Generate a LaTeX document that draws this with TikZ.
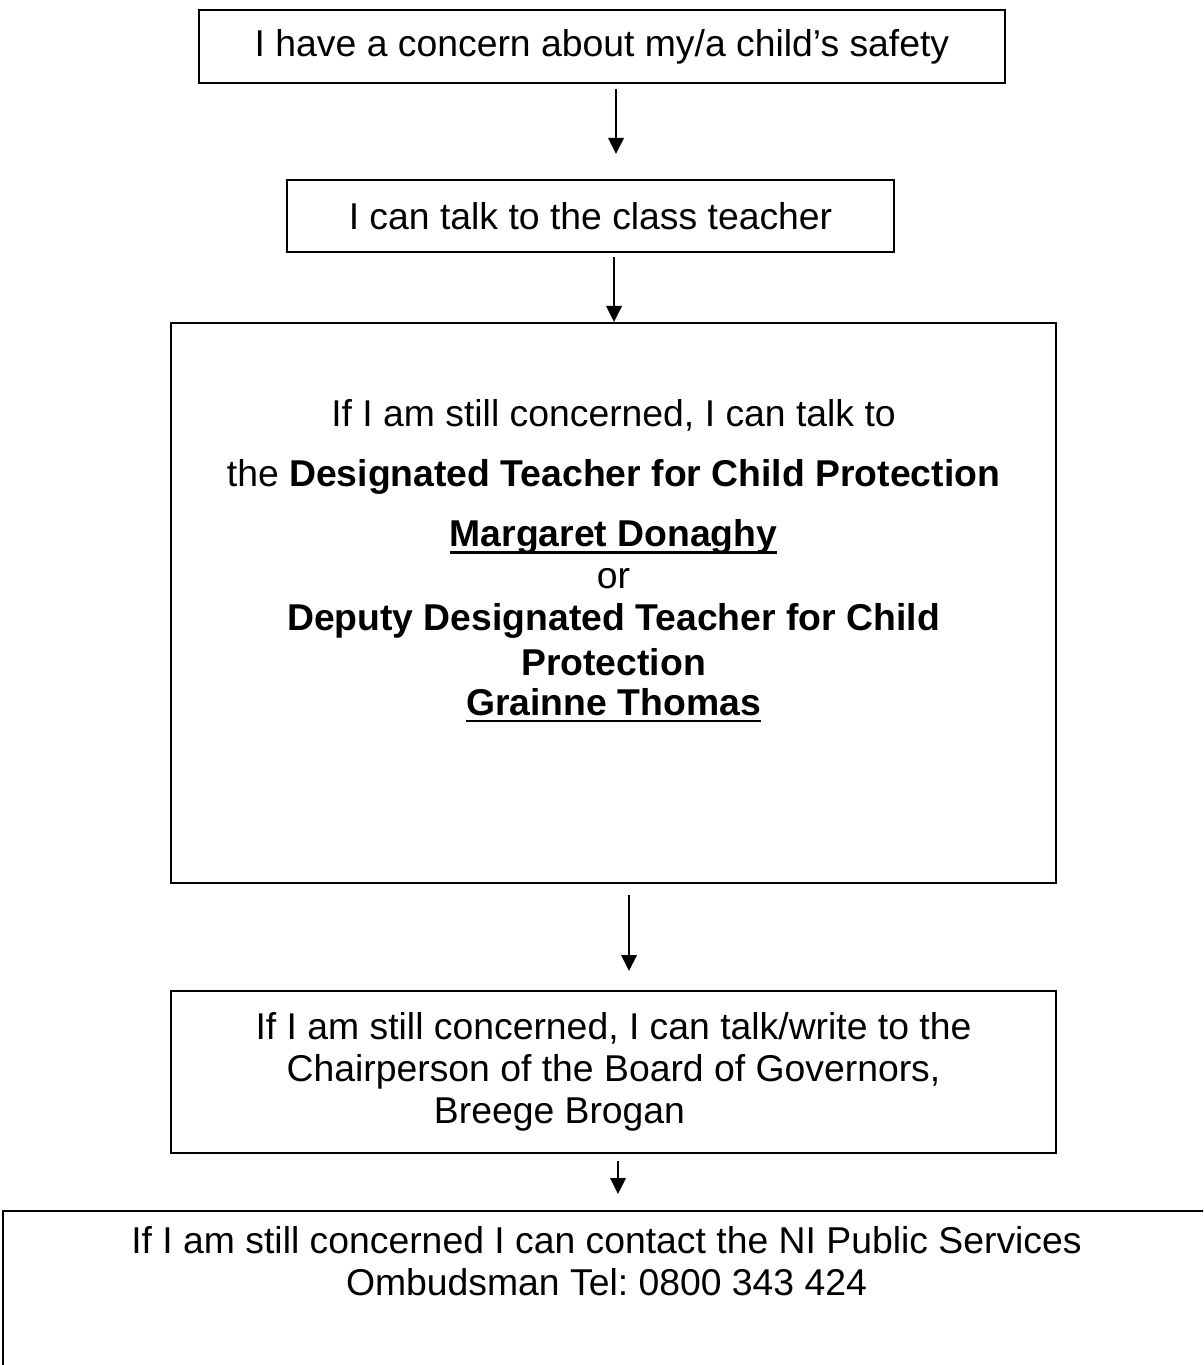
\documentclass[tikz,border=0pt]{standalone}
\usepackage{fontspec}
\setmainfont{Liberation Sans}
\usepackage{tikz}
\usetikzlibrary{arrows.meta,positioning}
\frenchspacing
\newlength{\px}
\setlength{\px}{0.375pt}
\newcommand{\sublinha}[1]{\leavevmode\setbox0\hbox{#1}\rlap{\rule[-2.6pt]{\wd0}{0.9pt}}\copy0}
\tikzset{
    caixa/.style={
        rectangle,
        draw,
        line width=0.75pt,
        align=center,
        inner sep=0pt
    },
    texto/.style={align=center, inner sep=0pt},
    seta/.style={-{Triangle[length=6pt, width=5.8pt]}, line width=0.75pt}
}

\begin{document}
\begin{tikzpicture}[x=0.375pt, y=-0.375pt, font=\fontsize{14}{15.75}\selectfont]
    \useasboundingbox (0,0) rectangle (1203,1365);
    \clip (0,0) rectangle (1203,1365);
    \node[caixa, minimum width=806\px, minimum height=73\px] (preocupacao) at (602,46.5)
        {I have a concern about my/a child’s safety};
    \node[caixa, minimum width=607\px, minimum height=72\px] (professor) at (590.5,216)
        {I can talk to the class teacher};
    \node[caixa, minimum width=885\px, minimum height=560\px] (designado) at (613.5,603) {};
    \node[texto, below=77\px of designado.north] (designadotexto)
        {If I am still concerned, I can talk to\\[6.75pt]
         the \textbf{Designated Teacher for Child Protection}\\[6.75pt]
         \textbf{\sublinha{Margaret Donaghy}}\\
         or\\
         \textbf{Deputy Designated Teacher for Child}\\[1.1pt]
         \textbf{Protection}\\[-0.75pt]
         \textbf{\sublinha{Grainne Thomas}}};
    \node[caixa, minimum width=885\px, minimum height=162\px] (presidente) at (613.5,1072)
        {If I am still concerned, I can talk/write to the\\
         Chairperson of the Board of Governors,\\
         Breege Brogan\hspace*{108\px}};
    \node[caixa, minimum width=1207\px, minimum height=209\px] (ombudsman) at (606.5,1315.5) {};
    \node[texto, below=16\px of ombudsman.north] (ombudsmantexto)
        {If I am still concerned I can contact the NI Public Services\\
         Ombudsman Tel: 0800 343 424};
    \draw[seta, shorten <=5\px, shorten >=25\px]
        ([xshift=14\px]preocupacao.south) -- ([xshift=25.5\px]professor.north);
    \draw[seta, shorten <=4\px]
        ([xshift=23.5\px]professor.south) -- ([xshift=0.5\px]designado.north);
    \draw[seta, shorten <=11\px, shorten >=19\px]
        ([xshift=15.5\px]designado.south) -- ([xshift=15.5\px]presidente.north);
    \draw[seta, shorten <=7\px, shorten >=16\px]
        ([xshift=4.5\px]presidente.south) -- ([xshift=11.5\px]ombudsman.north);
\end{tikzpicture}
\end{document}
